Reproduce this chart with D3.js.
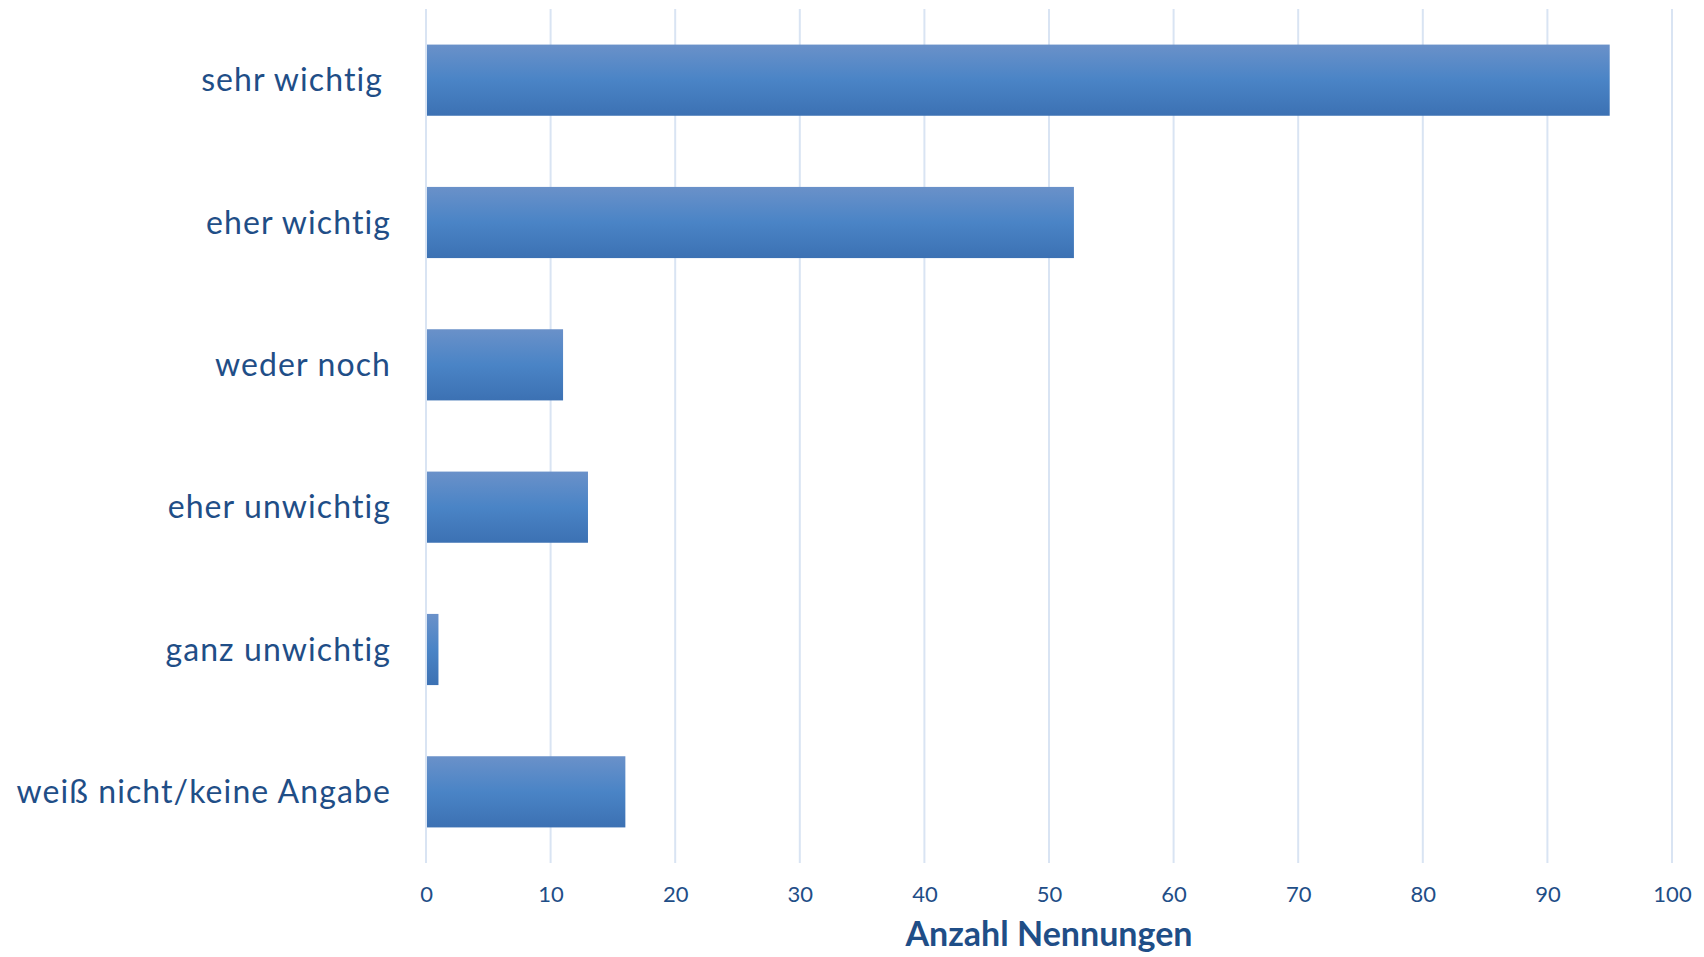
<!DOCTYPE html>
<html>
<head>
<meta charset="utf-8">
<script src="https://cdn.jsdelivr.net/npm/d3@7/dist/d3.min.js"></script>
<style>
  html, body { margin: 0; padding: 0; background: #ffffff; }
  svg { display: block; }
  text { font-family: Lato, "Open Sans", sans-serif; fill: #1F4E87; }
</style>
</head>
<body>
<svg id="chart" width="1704" height="957"></svg>
<script>
const categories = ["sehr wichtig", "eher wichtig", "weder noch", "eher unwichtig", "ganz unwichtig", "weiß nicht/keine Angabe"];
const values = [95, 52, 11, 13, 1, 16];
const tickValues = [0, 10, 20, 30, 40, 50, 60, 70, 80, 90, 100];
const axisTitle = "Anzahl Nennungen";

(function () {
const svg = d3.select("#chart");
const mLeft = 426, mRight = 1672, mTop = 9, mBottom = 863;

const x = d3.scaleLinear().domain([0, 100]).range([mLeft, mRight]);
const y = d3.scaleBand().domain(categories).range([mTop, mBottom]).paddingInner(0.5).paddingOuter(0.25);

const defs = svg.append("defs");
const grad = defs.append("linearGradient").attr("id", "barGrad")
  .attr("x1", 0).attr("y1", 0).attr("x2", 0).attr("y2", 1);
grad.append("stop").attr("offset", "0%").attr("stop-color", "#6A91C9");
grad.append("stop").attr("offset", "50%").attr("stop-color", "#4A84C6");
grad.append("stop").attr("offset", "100%").attr("stop-color", "#3C71B3");

// gridlines
svg.append("g").selectAll("line").data(tickValues).join("line")
  .attr("x1", d => x(d)).attr("x2", d => x(d))
  .attr("y1", mTop).attr("y2", mBottom)
  .attr("stroke", "#D9E4F3").attr("stroke-width", 2);

// bars
svg.append("g").selectAll("rect").data(values).join("rect")
  .attr("x", x(0) + 1)
  .attr("y", (d, i) => y(categories[i]))
  .attr("width", d => x(d) - x(0) - 1)
  .attr("height", y.bandwidth())
  .attr("fill", "url(#barGrad)");

// x axis tick labels
const xAxis = d3.axisBottom(x).tickValues(tickValues).tickSize(0).tickPadding(0).tickFormat(d3.format("d"));
const gx = svg.append("g").attr("transform", `translate(0, ${mBottom + 23})`).call(xAxis);
gx.select(".domain").remove();
gx.selectAll("text").attr("font-size", 22).attr("font-family", "Lato, 'Open Sans', sans-serif").attr("fill", "#1F4E87");

// y axis category labels
const yAxis = d3.axisLeft(y).tickSize(0).tickPadding(35);
const gy = svg.append("g").attr("transform", `translate(${mLeft}, 0)`).call(yAxis);
gy.select(".domain").remove();
gy.selectAll("text")
  .attr("font-size", 32)
  .attr("font-family", "Lato, 'Open Sans', sans-serif")
  .attr("letter-spacing", "1.1px")
  .attr("fill", "#1F4E87")
  .attr("dy", "0.35em")
  .attr("dx", d => d === "sehr wichtig" ? -8 : 0);

// axis title
svg.append("text")
  .attr("x", (mLeft + mRight) / 2)
  .attr("y", 946)
  .attr("text-anchor", "middle")
  .attr("font-size", 34)
  .attr("font-weight", "bold")
  .text(axisTitle);
})();
</script>
</body>
</html>
